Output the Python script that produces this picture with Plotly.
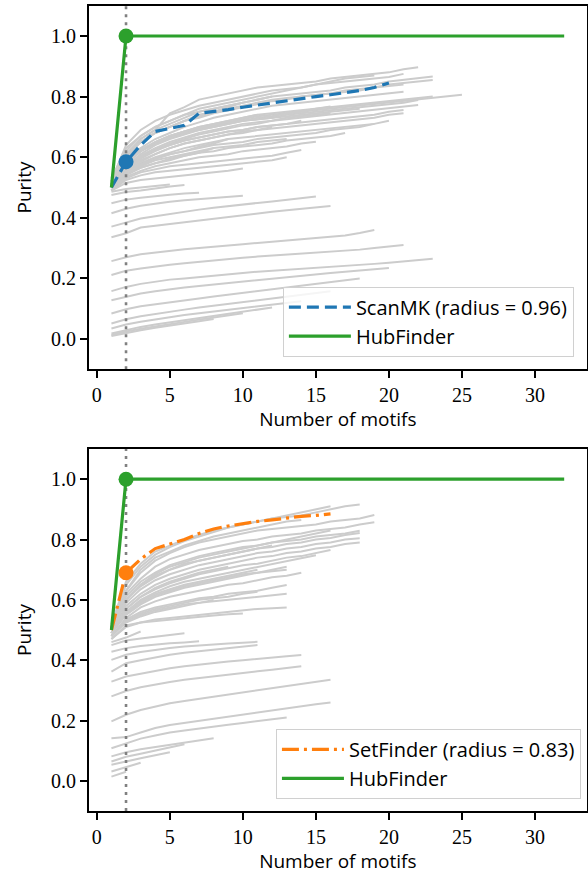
import plotly.graph_objects as go

# ---------------------------------------------------------------- data
# Purity after k motifs (k = 1, 2, ...) for individual runs (grey curves)
TOP_GRAY = [
    # upper bundle
    [0.50, 0.60, 0.66, 0.69, 0.745, 0.765, 0.79, 0.80, 0.81, 0.82, 0.83, 0.835, 0.84, 0.845, 0.85, 0.86, 0.865, 0.87, 0.875, 0.88, 0.89, 0.897],
    [0.53, 0.63, 0.67, 0.70, 0.72, 0.74, 0.76, 0.77, 0.78, 0.79, 0.80, 0.81, 0.82, 0.83, 0.84, 0.85, 0.86, 0.865, 0.87],
    [0.52, 0.61, 0.66, 0.69, 0.71, 0.73, 0.75, 0.76, 0.77, 0.78, 0.79, 0.80, 0.805, 0.81, 0.815, 0.82, 0.83, 0.835, 0.84, 0.85, 0.855, 0.86, 0.866],
    [0.51, 0.60, 0.65, 0.68, 0.70, 0.72, 0.74, 0.75, 0.76, 0.77, 0.78, 0.79, 0.795, 0.80, 0.805, 0.81, 0.82, 0.825, 0.83, 0.84, 0.845, 0.85, 0.855],
    [0.52, 0.61, 0.65, 0.68, 0.70, 0.72, 0.73, 0.745, 0.755, 0.765, 0.775, 0.785, 0.79, 0.80, 0.805, 0.81, 0.815, 0.82, 0.83, 0.835, 0.84],
    [0.51, 0.59, 0.63, 0.66, 0.68, 0.70, 0.715, 0.73, 0.74, 0.75, 0.76, 0.77, 0.775, 0.78, 0.785, 0.79, 0.795, 0.80, 0.805, 0.81, 0.816],
    [0.50, 0.58, 0.62, 0.645, 0.665, 0.68, 0.695, 0.705, 0.715, 0.725, 0.735, 0.74, 0.745, 0.75, 0.755, 0.76, 0.765, 0.77, 0.775, 0.78, 0.785, 0.79, 0.795, 0.80, 0.806],
    [0.51, 0.58, 0.62, 0.65, 0.67, 0.685, 0.70, 0.71, 0.72, 0.73, 0.74, 0.745, 0.75, 0.755, 0.76, 0.765, 0.77, 0.775, 0.78, 0.785, 0.79, 0.795, 0.80],
    [0.50, 0.57, 0.61, 0.64, 0.66, 0.675, 0.69, 0.70, 0.71, 0.72, 0.725, 0.73, 0.74, 0.745, 0.75, 0.755, 0.76, 0.765, 0.77, 0.775, 0.78, 0.789],
    [0.51, 0.57, 0.60, 0.625, 0.645, 0.66, 0.675, 0.685, 0.695, 0.705, 0.71, 0.72, 0.725, 0.73, 0.735, 0.74, 0.745, 0.75, 0.755, 0.76, 0.765, 0.772],
    [0.50, 0.56, 0.595, 0.62, 0.64, 0.655, 0.665, 0.675, 0.685, 0.69, 0.70, 0.705, 0.71, 0.715, 0.72, 0.725, 0.73, 0.735, 0.74, 0.75, 0.756],
    [0.50, 0.555, 0.585, 0.61, 0.63, 0.645, 0.655, 0.665, 0.675, 0.68, 0.69, 0.695, 0.70, 0.705, 0.71, 0.715, 0.72, 0.725, 0.73, 0.74, 0.745],
    [0.50, 0.55, 0.58, 0.60, 0.615, 0.63, 0.64, 0.65, 0.66, 0.665, 0.67, 0.675, 0.68, 0.685, 0.69, 0.695, 0.70, 0.705, 0.71, 0.72],
    [0.49, 0.545, 0.575, 0.595, 0.61, 0.62, 0.63, 0.64, 0.645, 0.65, 0.66, 0.665, 0.67, 0.675, 0.68, 0.69, 0.695, 0.70, 0.71],
    [0.49, 0.54, 0.565, 0.58, 0.595, 0.605, 0.615, 0.62, 0.63, 0.635, 0.64, 0.645, 0.655, 0.66, 0.665, 0.67, 0.68],
    [0.51, 0.58, 0.62, 0.645, 0.665, 0.68, 0.69, 0.70, 0.71, 0.72, 0.73, 0.735, 0.745, 0.75, 0.76, 0.767],
    [0.49, 0.535, 0.555, 0.57, 0.58, 0.59, 0.60, 0.605, 0.61, 0.62, 0.625, 0.63, 0.635, 0.645, 0.651],
    [0.49, 0.53, 0.55, 0.56, 0.57, 0.575, 0.58, 0.585, 0.59, 0.595, 0.60, 0.605, 0.615, 0.624],
    [0.49, 0.525, 0.54, 0.55, 0.555, 0.56, 0.565, 0.57, 0.575, 0.58, 0.585, 0.59, 0.60],
    [0.52, 0.62, 0.67, 0.70, 0.72, 0.74, 0.75, 0.76, 0.77, 0.78, 0.79, 0.80],
    [0.51, 0.60, 0.65, 0.68, 0.70, 0.72, 0.735, 0.75, 0.765, 0.78],
    [0.50, 0.58, 0.62, 0.65, 0.67, 0.685, 0.70, 0.71, 0.72, 0.73, 0.74],
    [0.50, 0.56, 0.59, 0.61, 0.63, 0.645, 0.655, 0.665, 0.675, 0.685, 0.69, 0.70],
    [0.49, 0.515, 0.525, 0.53, 0.535, 0.54, 0.545, 0.55, 0.555, 0.563],
    [0.50, 0.55, 0.575, 0.595, 0.61, 0.62, 0.635, 0.645, 0.66],
    [0.50, 0.565, 0.60, 0.625, 0.64, 0.655, 0.665, 0.675, 0.685, 0.69, 0.70, 0.705, 0.71, 0.72],
    [0.50, 0.545, 0.565, 0.58, 0.59, 0.605, 0.615, 0.63],
    [0.51, 0.585, 0.625, 0.65, 0.67, 0.685, 0.695, 0.705, 0.715, 0.72, 0.725, 0.73, 0.735, 0.74, 0.745, 0.75, 0.755, 0.76],
    [0.52, 0.64, 0.69, 0.72, 0.74, 0.755, 0.77, 0.78, 0.79, 0.80, 0.81, 0.82, 0.825, 0.83, 0.84, 0.845, 0.85, 0.855, 0.86, 0.865, 0.875],
    [0.50, 0.57, 0.605, 0.63, 0.65, 0.665, 0.68, 0.69, 0.70, 0.71, 0.715, 0.72, 0.73, 0.735, 0.74, 0.745],
    [0.49, 0.55, 0.57, 0.59, 0.60, 0.61, 0.62, 0.63, 0.635, 0.64, 0.65, 0.655, 0.66],
    # lower runs
    [0.486, 0.495, 0.50, 0.505, 0.51],
    [0.475, 0.485, 0.49, 0.497, 0.503, 0.508],
    [0.448, 0.46, 0.466, 0.472, 0.476, 0.48, 0.483],
    [0.415, 0.43, 0.44, 0.447, 0.453, 0.458, 0.462, 0.466, 0.47, 0.473],
    [0.371, 0.385, 0.398, 0.405, 0.413, 0.42, 0.427, 0.433, 0.439, 0.444, 0.449, 0.454, 0.459, 0.465, 0.47],
    [0.336, 0.349, 0.368, 0.374, 0.38, 0.386, 0.392, 0.398, 0.404, 0.41, 0.415, 0.42, 0.425, 0.43, 0.435, 0.439],
    [0.257, 0.27, 0.28, 0.286, 0.291, 0.296, 0.30, 0.305, 0.309, 0.313, 0.317, 0.321, 0.325, 0.329, 0.333, 0.337, 0.342, 0.35, 0.36],
    [0.211, 0.225, 0.233, 0.24, 0.245, 0.25, 0.255, 0.26, 0.264, 0.268, 0.272, 0.275, 0.278, 0.281, 0.284, 0.287, 0.29, 0.295, 0.30, 0.305, 0.31],
    [0.158, 0.172, 0.182, 0.19, 0.196, 0.20, 0.205, 0.21, 0.214, 0.218, 0.222, 0.225, 0.228, 0.231, 0.234, 0.237, 0.24, 0.244, 0.248, 0.252, 0.256, 0.26, 0.265],
    [0.128, 0.14, 0.15, 0.158, 0.165, 0.17, 0.175, 0.18, 0.185, 0.19, 0.195, 0.20, 0.205, 0.21, 0.214, 0.218, 0.222, 0.226, 0.23, 0.234],
    [0.084, 0.098, 0.108, 0.115, 0.122, 0.128, 0.134, 0.14, 0.146, 0.152, 0.158, 0.164, 0.17, 0.176, 0.182, 0.188, 0.194, 0.20],
    [0.051, 0.065, 0.075, 0.083, 0.09, 0.097, 0.104, 0.11, 0.116, 0.122, 0.128, 0.134, 0.14, 0.146, 0.152, 0.158],
    [0.035, 0.048, 0.057, 0.065, 0.072, 0.079, 0.085, 0.091, 0.097, 0.103, 0.109, 0.115, 0.12, 0.125],
    [0.018, 0.03, 0.04, 0.048, 0.055, 0.062, 0.069, 0.076, 0.083, 0.09, 0.097, 0.104],
    [0.013, 0.025, 0.034, 0.042, 0.05, 0.057, 0.064, 0.071, 0.078, 0.085],
    [0.010, 0.02, 0.029, 0.037, 0.045, 0.052, 0.059, 0.066],
]

BOTTOM_GRAY = [
    # upper bundle
    [0.52, 0.66, 0.72, 0.76, 0.78, 0.80, 0.815, 0.83, 0.84, 0.85, 0.86, 0.87, 0.875, 0.88, 0.89, 0.90, 0.91, 0.916],
    [0.51, 0.65, 0.71, 0.75, 0.775, 0.795, 0.81, 0.825, 0.84, 0.85, 0.86, 0.87, 0.88, 0.89, 0.90, 0.91],
    [0.51, 0.63, 0.69, 0.73, 0.755, 0.775, 0.79, 0.80, 0.81, 0.82, 0.83, 0.835, 0.84, 0.845, 0.85, 0.86, 0.865, 0.87, 0.881],
    [0.50, 0.62, 0.67, 0.71, 0.735, 0.75, 0.765, 0.775, 0.785, 0.795, 0.80, 0.81, 0.815, 0.82, 0.83, 0.835, 0.84, 0.85, 0.857],
    [0.50, 0.61, 0.66, 0.69, 0.715, 0.73, 0.745, 0.755, 0.765, 0.775, 0.78, 0.79, 0.795, 0.80, 0.81, 0.815, 0.82, 0.829],
    [0.50, 0.60, 0.645, 0.675, 0.70, 0.715, 0.73, 0.74, 0.75, 0.76, 0.77, 0.775, 0.785, 0.79, 0.80, 0.805, 0.815, 0.822],
    [0.50, 0.59, 0.635, 0.665, 0.685, 0.70, 0.715, 0.725, 0.735, 0.745, 0.755, 0.76, 0.77, 0.775, 0.785, 0.79, 0.80, 0.804],
    [0.49, 0.58, 0.62, 0.65, 0.67, 0.685, 0.70, 0.71, 0.72, 0.73, 0.74, 0.745, 0.755, 0.76, 0.77, 0.775, 0.785, 0.79],
    [0.49, 0.57, 0.61, 0.635, 0.655, 0.67, 0.685, 0.695, 0.705, 0.715, 0.72, 0.73, 0.74, 0.745, 0.755, 0.765],
    [0.49, 0.56, 0.60, 0.625, 0.645, 0.66, 0.67, 0.68, 0.69, 0.70, 0.71, 0.72, 0.73, 0.74, 0.748],
    [0.49, 0.55, 0.585, 0.61, 0.625, 0.64, 0.65, 0.66, 0.67, 0.68, 0.69, 0.70, 0.71],
    [0.48, 0.54, 0.575, 0.595, 0.61, 0.62, 0.63, 0.64, 0.65, 0.655, 0.665, 0.675, 0.68, 0.69],
    [0.48, 0.535, 0.56, 0.575, 0.585, 0.595, 0.605, 0.61, 0.62, 0.625, 0.63, 0.64, 0.649],
    [0.47, 0.51, 0.525, 0.535, 0.54, 0.545, 0.55, 0.555, 0.56, 0.565, 0.57, 0.572, 0.575],
    [0.48, 0.53, 0.555, 0.57, 0.58, 0.59, 0.60, 0.605, 0.61, 0.62, 0.627],
    [0.47, 0.515, 0.525, 0.53, 0.535, 0.54, 0.545, 0.548, 0.552, 0.555],
    [0.50, 0.60, 0.65, 0.68, 0.70, 0.72, 0.73, 0.74, 0.75, 0.76, 0.77, 0.78],
    [0.49, 0.57, 0.61, 0.64, 0.66, 0.675, 0.69, 0.70, 0.71],
    [0.50, 0.63, 0.70, 0.74, 0.76, 0.78, 0.795, 0.81, 0.82, 0.83, 0.84, 0.85, 0.86, 0.865],
    [0.49, 0.555, 0.59, 0.615, 0.63, 0.645, 0.655, 0.665, 0.675, 0.685, 0.69, 0.695, 0.70],
    [0.48, 0.53, 0.55, 0.565, 0.575, 0.585, 0.59, 0.60],
    [0.49, 0.56, 0.595, 0.62, 0.635, 0.65, 0.66, 0.67, 0.68, 0.69, 0.70],
    [0.50, 0.60, 0.65, 0.685, 0.71, 0.725, 0.74, 0.75, 0.76, 0.77, 0.78, 0.79, 0.80, 0.81, 0.82, 0.83],
    [0.48, 0.525, 0.545, 0.56, 0.57, 0.58, 0.59, 0.595, 0.60, 0.605, 0.61, 0.615, 0.62],
    # lower runs
    [0.46, 0.475, 0.495],
    [0.45, 0.465, 0.472, 0.478, 0.484, 0.489],
    [0.428, 0.44, 0.447, 0.452, 0.456, 0.459, 0.463],
    [0.401, 0.418, 0.427, 0.434, 0.44, 0.445, 0.449, 0.452, 0.455, 0.458, 0.461],
    [0.362, 0.39, 0.40, 0.41, 0.418, 0.425, 0.43, 0.436, 0.441, 0.446, 0.45],
    [0.329, 0.346, 0.355, 0.365, 0.373, 0.38, 0.386, 0.391, 0.396, 0.40, 0.405, 0.409, 0.413, 0.417],
    [0.28, 0.298, 0.31, 0.32, 0.328, 0.335, 0.341, 0.347, 0.352, 0.358, 0.363, 0.368, 0.374, 0.38],
    [0.197, 0.219, 0.235, 0.247, 0.257, 0.265, 0.272, 0.28, 0.287, 0.293, 0.30, 0.306, 0.313, 0.32, 0.328, 0.335],
    [0.141, 0.145, 0.16, 0.175, 0.185, 0.192, 0.20, 0.207, 0.214, 0.22, 0.228, 0.235, 0.24, 0.247, 0.254, 0.26],
    [0.108, 0.125, 0.14, 0.15, 0.16, 0.167, 0.174, 0.18, 0.186, 0.192, 0.198, 0.204, 0.21],
    [0.081, 0.095, 0.105, 0.112, 0.12, 0.128, 0.135, 0.141],
    [0.064, 0.08, 0.09, 0.10, 0.11, 0.121],
    [0.053, 0.065, 0.075, 0.085, 0.095],
    [0.031, 0.045, 0.06],
    [0.014, 0.03],
]

SCANMK_Y = [0.50, 0.585, 0.64, 0.685, 0.695, 0.705, 0.745, 0.75, 0.757, 0.765, 0.772, 0.78,
            0.787, 0.795, 0.80, 0.806, 0.813, 0.82, 0.83, 0.845]
SETFINDER_Y = [0.50, 0.69, 0.735, 0.77, 0.785, 0.80, 0.82, 0.835, 0.845, 0.853, 0.86, 0.865,
               0.872, 0.877, 0.88, 0.885]
HUB_Y = [0.50, 1.0, 1.0, 1.0, 1.0, 1.0, 1.0, 1.0, 1.0, 1.0, 1.0, 1.0, 1.0, 1.0, 1.0, 1.0,
         1.0, 1.0, 1.0, 1.0, 1.0, 1.0, 1.0, 1.0, 1.0, 1.0, 1.0, 1.0, 1.0, 1.0, 1.0, 1.0]
CHOSEN_K = 2  # number of motifs picked by each method

SCANMK_NAME = "ScanMK (radius = 0.96)"
SETFINDER_NAME = "SetFinder (radius = 0.83)"
HUB_NAME = "HubFinder"

X_TICKS = [0, 5, 10, 15, 20, 25, 30]
Y_TICKS = [0.0, 0.2, 0.4, 0.6, 0.8, 1.0]
X_RANGE = [-0.55, 33.55]
Y_RANGE = [-0.1, 1.1]

# ---------------------------------------------------------------- style
GRAY = "#cccccc"
BLUE = "#1f77b4"
ORANGE = "#ff7f0e"
GREEN = "#2ca02c"
SANS = "'Open Sans', 'DejaVu Sans', sans-serif"
SERIF = "'Liberation Serif', 'DejaVu Serif', serif"
FS = 19


def ks(values):
    return list(range(1, len(values) + 1))


fig = go.Figure()


def add_panel(xa, ya, gray_runs, method_y, method_name, method_color, method_dash, legend):
    for run in gray_runs:
        fig.add_trace(go.Scatter(x=ks(run), y=run, mode="lines", xaxis=xa, yaxis=ya,
                                 line=dict(color=GRAY, width=2.0), showlegend=False,
                                 hoverinfo="skip"))
    # chosen number of motifs
    fig.add_trace(go.Scatter(x=[CHOSEN_K, CHOSEN_K], y=Y_RANGE, mode="lines", xaxis=xa, yaxis=ya,
                             line=dict(color="#808080", width=2.6, dash="3px,5px"),
                             showlegend=False, hoverinfo="skip"))
    fig.add_trace(go.Scatter(x=ks(method_y), y=method_y, mode="lines", xaxis=xa, yaxis=ya,
                             name=method_name, legend=legend,
                             line=dict(color=method_color, width=3.2, dash=method_dash)))
    fig.add_trace(go.Scatter(x=ks(HUB_Y), y=HUB_Y, mode="lines", xaxis=xa, yaxis=ya,
                             name=HUB_NAME, legend=legend,
                             line=dict(color=GREEN, width=3.2)))
    fig.add_trace(go.Scatter(x=[CHOSEN_K], y=[method_y[CHOSEN_K - 1]], mode="markers",
                             xaxis=xa, yaxis=ya, showlegend=False,
                             marker=dict(color=method_color, size=15, line=dict(width=0))))
    fig.add_trace(go.Scatter(x=[CHOSEN_K], y=[HUB_Y[CHOSEN_K - 1]], mode="markers",
                             xaxis=xa, yaxis=ya, showlegend=False,
                             marker=dict(color=GREEN, size=15, line=dict(width=0))))


add_panel("x", "y", TOP_GRAY, SCANMK_Y, SCANMK_NAME, BLUE, "12px,6px", "legend")
add_panel("x2", "y2", BOTTOM_GRAY, SETFINDER_Y, SETFINDER_NAME, ORANGE,
          "17px,5px,3px,5px", "legend2")

xcommon = dict(range=X_RANGE, tickvals=X_TICKS, ticks="outside", ticklen=7, tickwidth=1.5,
               tickcolor="black", showline=True, linecolor="black", linewidth=1.5,
               mirror=True, showgrid=False, zeroline=False,
               tickfont=dict(family=SERIF, size=20, color="black"),
               title=dict(text="Number of motifs", standoff=4,
                          font=dict(family=SANS, size=FS, color="black")))
ycommon = dict(range=Y_RANGE, tickvals=Y_TICKS, tickformat=".1f", ticks="outside", ticklen=7,
               tickwidth=1.5, tickcolor="black", showline=True, linecolor="black",
               linewidth=1.5, mirror=True, showgrid=False, zeroline=False,
               tickfont=dict(family=SERIF, size=20, color="black"),
               title=dict(text="Purity", standoff=14,
                          font=dict(family=SANS, size=FS, color="black")))

legend_common = dict(xanchor="right", yanchor="bottom", bgcolor="rgba(255,255,255,0.8)",
                     bordercolor="#d0d0d0", borderwidth=1, itemwidth=62,
                     font=dict(family=SANS, size=20, color="black"), tracegroupgap=0)

fig.update_layout(
    width=588, height=876,
    margin=dict(l=0, r=0, t=0, b=0),
    paper_bgcolor="white", plot_bgcolor="white",
    showlegend=True,
    xaxis=dict(domain=[0.151, 0.998], anchor="y", **xcommon),
    yaxis=dict(domain=[0.5784, 0.9935], anchor="x", **ycommon),
    xaxis2=dict(domain=[0.151, 0.998], anchor="y2", **xcommon),
    yaxis2=dict(domain=[0.0742, 0.4874], anchor="x2", **ycommon),
    legend=dict(x=0.976, y=0.593, **legend_common),
    legend2=dict(x=0.988, y=0.088, **legend_common),
)

fig.write_html("out.html")
